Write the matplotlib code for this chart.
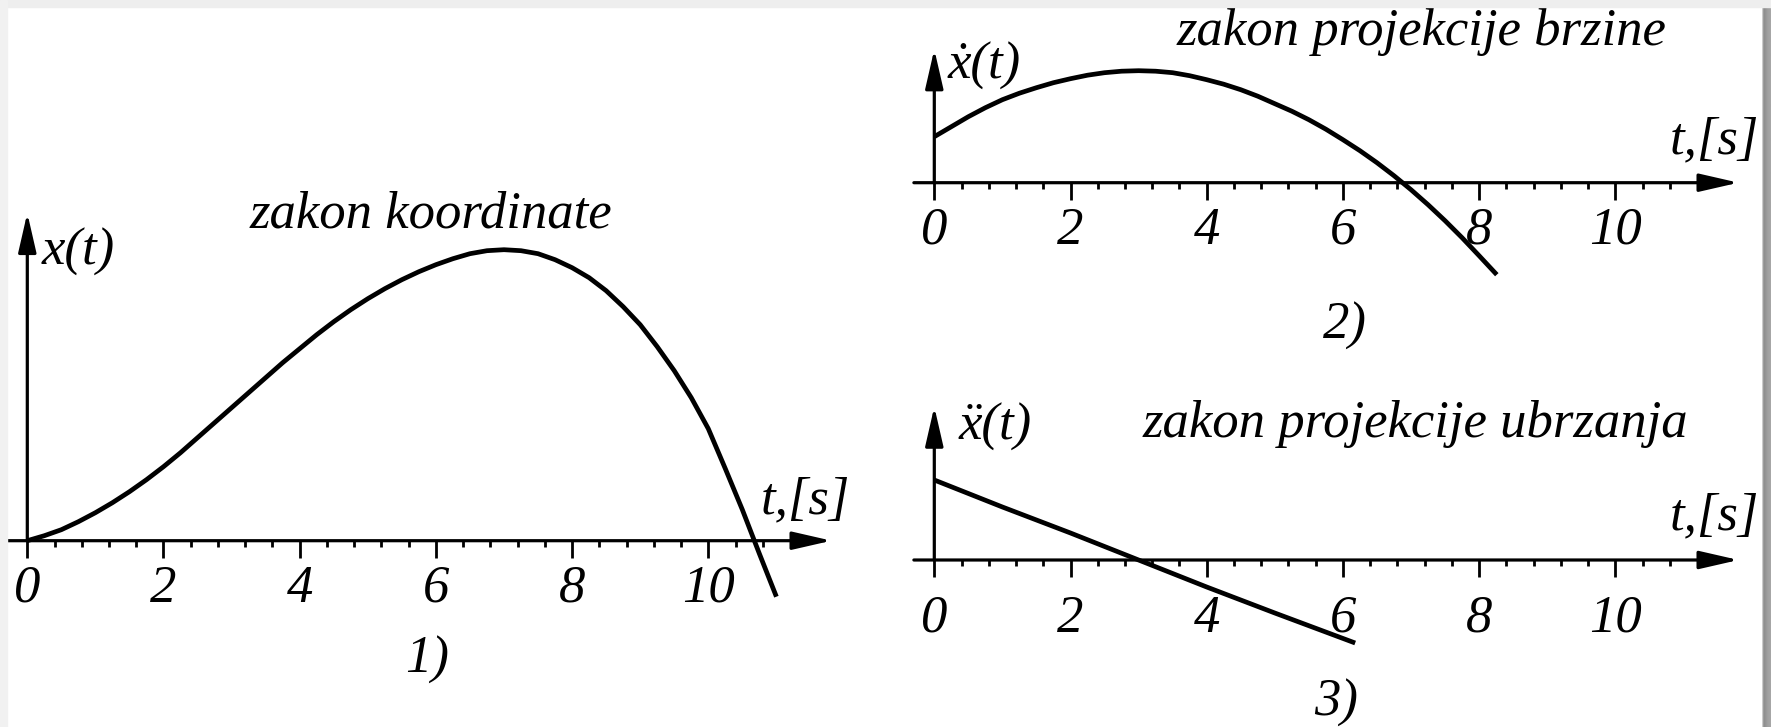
import numpy as np
import matplotlib
matplotlib.use('Agg')
import matplotlib.pyplot as plt
from matplotlib.patches import Rectangle

# canvas in pixels
W, H = 1771, 727
DPI = 100
UNIT = 68.1          # pixels per second on every time axis

# x(t): coordinate (heights in px above the t axis)
t_x = [0.0, 0.25, 0.5, 0.75, 1.0, 1.25, 1.5, 1.75, 2.0, 2.25, 2.5, 2.75,
       3.0, 3.25, 3.5, 3.75, 4.0, 4.25, 4.5, 4.75, 5.0, 5.25, 5.5, 5.75,
       6.0, 6.25, 6.5, 6.75, 7.0, 7.25, 7.5, 7.75, 8.0, 8.25, 8.5, 8.75,
       9.0, 9.25, 9.5, 9.75, 10.0, 10.25, 10.5, 10.75, 11.0]
x_vals = [0, 5, 11, 19, 28, 38, 49, 61, 74, 88, 103, 118,
          133, 148, 163, 178, 192, 206, 219, 231, 242, 252, 261, 269,
          276, 282, 287, 290, 291, 290, 287, 281, 273, 263, 250, 234,
          216, 194, 170, 143, 112, 72, 31, -13, -56]

# x'(t): velocity projection
t_v = [0.0, 0.25, 0.5, 0.75, 1.0, 1.25, 1.5, 1.75, 2.0, 2.25, 2.5, 2.75,
       3.0, 3.25, 3.5, 3.75, 4.0, 4.25, 4.5, 4.75, 5.0, 5.25, 5.5, 5.75,
       6.0, 6.25, 6.5, 6.75, 7.0, 7.25, 7.5, 7.75, 8.0, 8.26]
v_vals = [46, 56, 66, 75, 83, 89.5, 95, 100, 104, 107.5, 110, 111.5,
          112, 111.5, 110, 107, 103, 98.5, 93, 86.5, 79, 71.5, 63, 53.5,
          43, 32, 20, 7, -7, -22, -38, -55, -73, -92]

# x''(t): acceleration projection
t_a = [0.0, 1.0, 2.0, 3.0, 4.0, 5.0, 6.18]
a_vals = [80, 53, 27, 0, -27, -53, -83]

major_t = [0, 2, 4, 6, 8, 10]
tick_labels = ['0', '2', '4', '6', '8', '10']
minor_t = np.arange(0.4, 10.81, 0.4)

plt.rcParams['font.family'] = ['Liberation Serif', 'DejaVu Serif']
plt.rcParams['font.style'] = 'italic'
FS = 38
LW_AX = 2.3
LW_CURVE = 3.4

fig = plt.figure(figsize=(W / DPI, H / DPI), dpi=DPI)
fig.patch.set_facecolor('white')


def panel(left, top, right, bottom, x0, y0, tip_y, label_pad):
    ax = fig.add_axes([left / W, 1 - bottom / H, (right - left) / W, (bottom - top) / H])
    ax.set_xlim((left - x0) / UNIT, (right - x0) / UNIT)
    ax.set_ylim(y0 - bottom, y0 - top)
    ax.patch.set_visible(False)
    for s in ax.spines.values():
        s.set_visible(False)
    ax.spines['bottom'].set_position(('data', 0))
    ax.set_yticks([])
    ax.set_xticks(major_t, tick_labels)
    ax.set_xticks(minor_t, minor=True)
    ax.tick_params(axis='x', which='major', direction='out', length=12.2,
                   width=2.0, pad=label_pad, labelsize=FS)
    ax.tick_params(axis='x', which='minor', direction='out', length=4.6, width=2.0)
    arrow = dict(arrowstyle='-|>,head_length=24,head_width=5.5', mutation_scale=1,
                 lw=LW_AX, color='black', shrinkA=0, shrinkB=0)
    ax.annotate('', xy=(11.81, 0), xytext=(-0.3, 0), arrowprops=arrow)
    ax.annotate('', xy=(0, tip_y), xytext=(0, 0), arrowprops=arrow)
    return ax


def curve(ax, t, y):
    ax.plot(t, y, color='black', lw=LW_CURVE, solid_capstyle='butt',
            solid_joinstyle='round')


# 1) coordinate
ax1 = panel(0, 190, 880, 727, 27.3, 540.7, 327.7, 5)
curve(ax1, t_x, x_vals)
ax1.text(0.21, 289, 'x(t)', ha='left', va='center', fontsize=FS)
ax1.text(5.92, 313.7, 'zakon koordinate', ha='center', va='baseline', fontsize=FS)
ax1.text(11.42, 40.7, 't,[s]', ha='center', va='center', fontsize=FS)
ax1.text(5.87, -119, '1)', ha='center', va='center', fontsize=FS)

# 2) velocity
ax2 = panel(880, 0, 1771, 360, 934.3, 182.7, 133.4, 5)
curve(ax2, t_v, v_vals)
ax2.text(0.2, 117, 'ẋ(t)', ha='left', va='center', fontsize=FS)
ax2.text(7.16, 137.7, 'zakon projekcije brzine', ha='center', va='baseline', fontsize=FS)
ax2.text(11.45, 42.7, 't,[s]', ha='center', va='center', fontsize=FS)
ax2.text(6.03, -143.3, '2)', ha='center', va='center', fontsize=FS)

# 3) acceleration
ax3 = panel(880, 370, 1771, 727, 934.3, 560, 153.3, 13)
curve(ax3, t_a, a_vals)
ax3.text(0.35, 133.5, 'ẍ(t)', ha='left', va='center', fontsize=FS)
ax3.text(7.07, 123.3, 'zakon projekcije ubrzanja', ha='center', va='baseline', fontsize=FS)
ax3.text(11.45, 43.3, 't,[s]', ha='center', va='center', fontsize=FS)
ax3.text(5.9, -143, '3)', ha='center', va='center', fontsize=FS)

# page edge: light strips on top/left, drop shadow on the right
fig.patches.append(Rectangle((0, 1 - 7 / H), 1, 7 / H, transform=fig.transFigure,
                             color='#eeeeee', zorder=10))
fig.patches.append(Rectangle((0, 0), 7 / W, 1, transform=fig.transFigure,
                             color='#f1f1f1', zorder=10))
sh = fig.add_axes([1762 / W, 0, 9 / W, (H - 7) / H])
sh.imshow(np.array([[0.80, 0.62, 0.56, 0.58, 0.60, 0.62, 0.63, 0.64, 0.65]]),
          cmap='gray', vmin=0, vmax=1, aspect='auto', interpolation='bilinear')
sh.axis('off')

fig.savefig('out.png', dpi=DPI, facecolor='white')
